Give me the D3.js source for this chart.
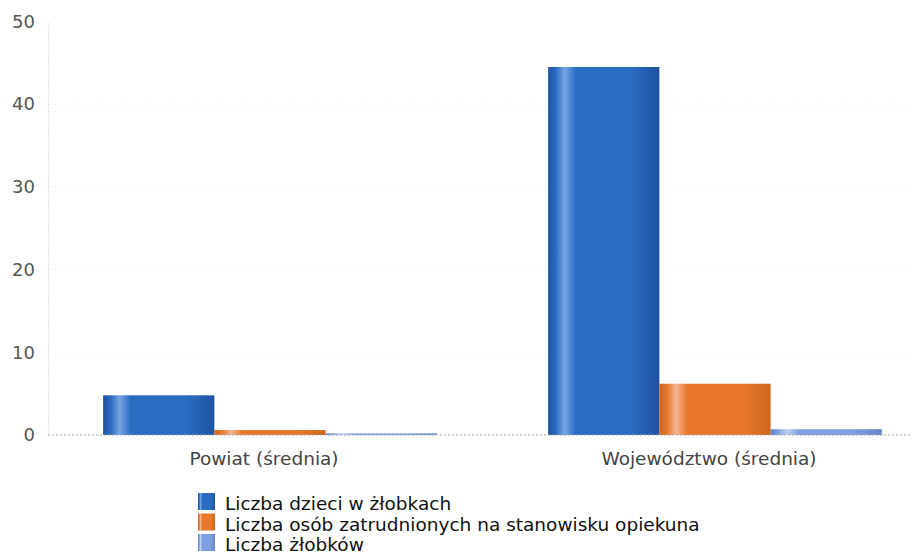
<!DOCTYPE html>
<html>
<head>
<meta charset="utf-8">
<script src="https://cdn.jsdelivr.net/npm/d3@7.9.0/dist/d3.min.js"></script>
<style>
  body { margin: 0; background: #fff; }
  svg { display: block; font-family: "DejaVu Sans", Verdana, sans-serif; }
</style>
</head>
<body>
<svg id="chart" width="922" height="557"></svg>
<script>
/* data */
const categories = ['Powiat (średnia)', 'Województwo (średnia)'];
const seriesNames = [
  'Liczba dzieci w żłobkach',
  'Liczba osób zatrudnionych na stanowisku opiekuna',
  'Liczba żłobków'
];
const dzieci      = [4.8, 44.5];
const opiekunowie = [0.6, 6.2];
const zlobki      = [0.2, 0.7];
const yTicks = [0, 10, 20, 30, 40, 50];

const seriesValues = [dzieci, opiekunowie, zlobki];
const colors = [
  { base: '#2a6cc2', light: '#75a6e4', dark: '#1f52a0' },
  { base: '#e8772c', light: '#f4b596', dark: '#cf661f' },
  { base: '#7d9fe0', light: '#bfd2f3', dark: '#6384c8' }
];

const svg = d3.select('#chart');
const defs = svg.append('defs');
colors.forEach((c, i) => {
  const g = defs.append('linearGradient')
    .attr('id', 'grad' + i)
    .attr('x1', '0%').attr('x2', '100%').attr('y1', '0%').attr('y2', '0%');
  g.append('stop').attr('offset', '0%').attr('stop-color', c.dark);
  g.append('stop').attr('offset', '7%').attr('stop-color', c.base);
  g.append('stop').attr('offset', '15%').attr('stop-color', c.light);
  g.append('stop').attr('offset', '25%').attr('stop-color', c.base);
  g.append('stop').attr('offset', '75%').attr('stop-color', c.base);
  g.append('stop').attr('offset', '100%').attr('stop-color', c.dark);
});

/* scales */
const y = d3.scaleLinear().domain([0, 50]).range([435, 21.5]);
const x0 = d3.scaleBand().domain(categories).range([47.5, 937.5])
  .paddingInner(0.25).paddingOuter(0.125);
const x1 = d3.scaleBand().domain(d3.range(seriesNames.length)).range([0, x0.bandwidth()]);

/* faint gridlines */
svg.append('g')
  .selectAll('line')
  .data(yTicks.filter(t => t > 0 && t < 50))
  .join('line')
  .attr('x1', 48).attr('x2', 912)
  .attr('y1', d => y(d)).attr('y2', d => y(d))
  .attr('stroke', '#f4f4f4')
  .attr('stroke-dasharray', '2,4');

/* y axis */
const yAxis = svg.append('g')
  .attr('transform', 'translate(48,0)')
  .call(d3.axisLeft(y).tickValues(yTicks).tickSize(0).tickPadding(13));
yAxis.select('.domain')
  .attr('stroke', '#c4c4c4')
  .attr('stroke-dasharray', '1,2');
yAxis.selectAll('text')
  .attr('fill', '#555')
  .style('font-size', '18px')
  .style('font-family', '"DejaVu Sans", Verdana, sans-serif');

/* bars */
const groups = svg.append('g')
  .selectAll('g')
  .data(categories)
  .join('g')
  .attr('transform', d => `translate(${x0(d)},0)`);

groups.selectAll('rect')
  .data((d, ci) => seriesValues.map((vals, si) => ({ si, v: vals[ci] })))
  .join('rect')
  .attr('x', d => x1(d.si))
  .attr('width', x1.bandwidth())
  .attr('y', d => y(d.v))
  .attr('height', d => y(0) - y(d.v))
  .attr('fill', d => `url(#grad${d.si})`);

/* baseline */
svg.append('line')
  .attr('x1', 48).attr('x2', 912)
  .attr('y1', y(0)).attr('y2', y(0))
  .attr('stroke', '#aaa')
  .attr('stroke-dasharray', '2,2');

/* x axis labels */
svg.append('g')
  .selectAll('text')
  .data(categories)
  .join('text')
  .attr('x', d => x0(d) + x0.bandwidth() / 2 - 6)
  .attr('y', 465)
  .attr('text-anchor', 'middle')
  .attr('fill', '#444')
  .style('font-size', '18.5px')
  .text(d => d);

/* legend */
const legend = svg.append('g').attr('transform', 'translate(198,493)');
const item = legend.selectAll('g')
  .data(seriesNames)
  .join('g')
  .attr('transform', (d, i) => `translate(0,${i * 20.5})`);
item.append('rect')
  .attr('width', 17).attr('height', 17)
  .attr('fill', (d, i) => `url(#grad${i})`);
item.append('text')
  .attr('x', 27).attr('y', 17)
  .attr('fill', '#111')
  .style('font-size', '18.5px')
  .text(d => d);
</script>
</body>
</html>
